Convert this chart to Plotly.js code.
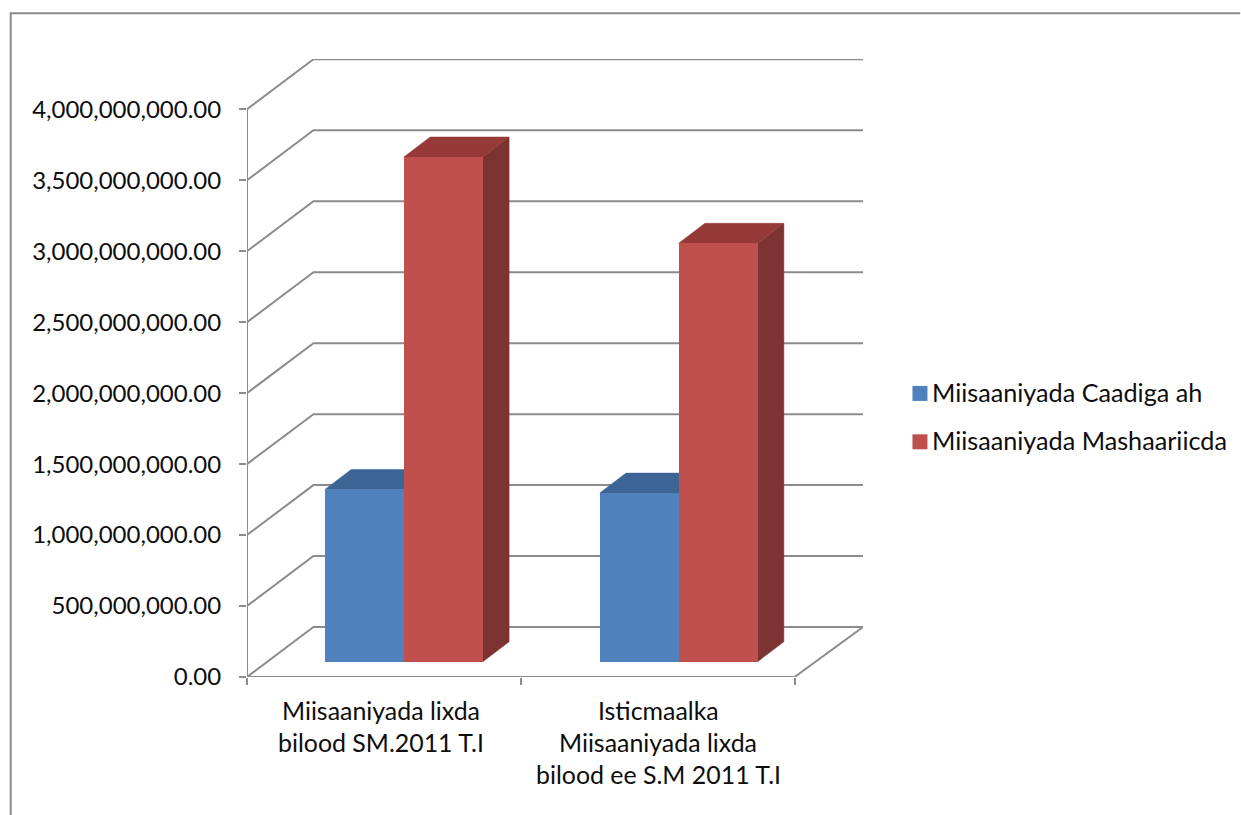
<!DOCTYPE html>
<html>
<head>
<meta charset="utf-8">
<script src="https://cdn.plot.ly/plotly-3.0.1.min.js"></script>
<style>html,body{margin:0;padding:0;background:#fff;overflow:hidden}</style>
</head>
<body>
<div id="chart" style="width:1241px;height:815px"></div>
<script>
// ---- data ----
const categoryLines = [
  ['Miisaaniyada lixda', 'bilood SM.2011 T.I'],
  ['Isticmaalka', 'Miisaaniyada lixda', 'bilood ee S.M 2011 T.I']
];
const seriesNames = ['Miisaaniyada Caadiga ah', 'Miisaaniyada Mashaariicda'];
const regularBudget = [1214000000, 1188000000];
const projectBudget = [3556000000, 2948000000];
const yTicks = [0, 500000000, 1000000000, 1500000000, 2000000000, 2500000000, 3000000000, 3500000000, 4000000000];

// ---- geometry of the fake 3-D projection ----
const PL = 247, PR = 863.5, PT = 58.7, PB = 677;      // plot box, px
const pxPerCat = 274, pxPerVal = 568 / 4e9;
const xu = px => px / pxPerCat;                        // px -> x data units
const yu = px => px / pxPerVal;                        // px -> y data units
const px2paperX = px => (px - PL) / (PR - PL);
const px2paperY = py => (PB - py) / (PB - PT);
const wallDX = xu(66.5), wallDY = yu(50);              // depth of the box
const barW = xu(79), barDX = xu(26.3), barDY = yu(20); // bar size and depth
const barBase = yu(15.3);                              // floor offset of bars
const barShift = [xu(20), xu(21)];                     // sideways offset per category
const colors = ['#4f81bd', '#c0504d'];
const topColors = ['#3c6494', '#953a38'];
const sideColors = ['#305070', '#7d3331'];
const GREY = '#8c8c8c';
const INK = '#0d0d0d';

const polyPath = pts => 'M' + pts.map(p => p[0] + ',' + p[1]).join('L');
const lineShape = (pts, w) => ({type: 'path', layer: 'below', xref: 'x', yref: 'y',
  path: polyPath(pts), line: {color: GREY, width: w || 2}});
const faceShape = (pts, c) => ({type: 'path', layer: 'below', xref: 'x', yref: 'y',
  path: polyPath(pts) + 'Z', fillcolor: c, line: {color: c, width: 0.5}});

const shapes = [];
// outer chart frame
shapes.push({type: 'path', layer: 'below', xref: 'paper', yref: 'paper',
  path: polyPath([[px2paperX(10.5), px2paperY(820)], [px2paperX(10.5), px2paperY(13)], [px2paperX(1241), px2paperY(13)]]),
  line: {color: '#8a8a8a', width: 2}});
// walls: one bent line per value tick
yTicks.forEach(v => shapes.push(lineShape([[0, v], [wallDX, v + wallDY], [xu(PR - PL), v + wallDY]])));
// axis lines and floor edge
shapes.push(lineShape([[0, yTicks[yTicks.length - 1]], [0, 0], [2, 0], [xu(PR - PL), wallDY]]));

const barX = (s, i) => i + 0.5 + barShift[i] + (s === 0 ? -barW / 2 : barW / 2);
const series = [regularBudget, projectBudget];
series.forEach((vals, s) => vals.forEach((v, i) => {
  const x0 = barX(s, i) - barW / 2, x1 = x0 + barW;
  const yb = barBase, yt = barBase + v;
  shapes.push(faceShape([[x1, yb], [x1 + barDX, yb + barDY], [x1 + barDX, yt + barDY], [x1, yt]], sideColors[s]));
  shapes.push(faceShape([[x0, yt], [x0 + barDX, yt + barDY], [x1 + barDX, yt + barDY], [x1, yt]], topColors[s]));
}));

const traces = series.map((vals, s) => ({
  type: 'bar',
  name: seriesNames[s],
  x: vals.map((v, i) => barX(s, i)),
  y: vals,
  base: vals.map(() => barBase),
  width: barW,
  marker: {color: colors[s], line: {width: 0}},
  hoverinfo: 'name+y'
}));

const font = 'Lato, "Liberation Sans", sans-serif';
const annotations = [];
// each line of a category label sits on its own baseline (line pitch 32 px)
const labelNudge = [-2.5, 0.5];
categoryLines.forEach((lines, i) => lines.forEach((t, j) => annotations.push({
  text: t, xref: 'x', yref: 'paper', x: i + 0.5 + xu(labelNudge[i]),
  y: px2paperY(710 + 32 * j), showarrow: false, xanchor: 'center', yanchor: 'middle',
  font: {family: font, size: 24.9, color: INK}
})));
// legend: swatch + label, spaced as in the reference
seriesNames.forEach((n, s) => {
  const cy = 393.3 + 48.4 * s;
  shapes.push({type: 'rect', layer: 'below', xref: 'paper', yref: 'paper',
    x0: px2paperX(913), x1: px2paperX(928), y0: px2paperY(cy - 7.5), y1: px2paperY(cy + 7.5),
    fillcolor: colors[s], line: {width: 0}});
  annotations.push({text: n, xref: 'paper', yref: 'paper', x: px2paperX(931), y: px2paperY(cy - 1.5),
    showarrow: false, xanchor: 'left', yanchor: 'middle', font: {family: font, size: 25.2, color: INK}});
});

const layout = {
  width: 1241, height: 815, autosize: false,
  margin: {l: PL, r: 1241 - PR, t: PT, b: 815 - PB, pad: 0},
  paper_bgcolor: '#fff', plot_bgcolor: 'rgba(0,0,0,0)',
  barmode: 'overlay', showlegend: false, bargap: 0,
  xaxis: {type: 'linear', range: [0, xu(PR - PL)], tickmode: 'array', tickvals: [0, 1, 2], ticktext: ['', '', ''],
          ticks: 'outside', ticklen: 7, tickwidth: 2, tickcolor: GREY, showgrid: false, zeroline: false, showline: false},
  yaxis: {type: 'linear', range: [0, yu(PB - PT)], tickmode: 'array', tickvals: yTicks, tickformat: ',.2f',
          ticks: 'outside', ticklen: 7, tickwidth: 2, tickcolor: GREY, showgrid: false, zeroline: false, showline: false,
          ticklabelstandoff: 13, tickfont: {family: font, size: 24, color: INK}},
  shapes, annotations
};
Plotly.newPlot('chart', traces, layout, {displayModeBar: false, staticPlot: true});
</script>
</body>
</html>
